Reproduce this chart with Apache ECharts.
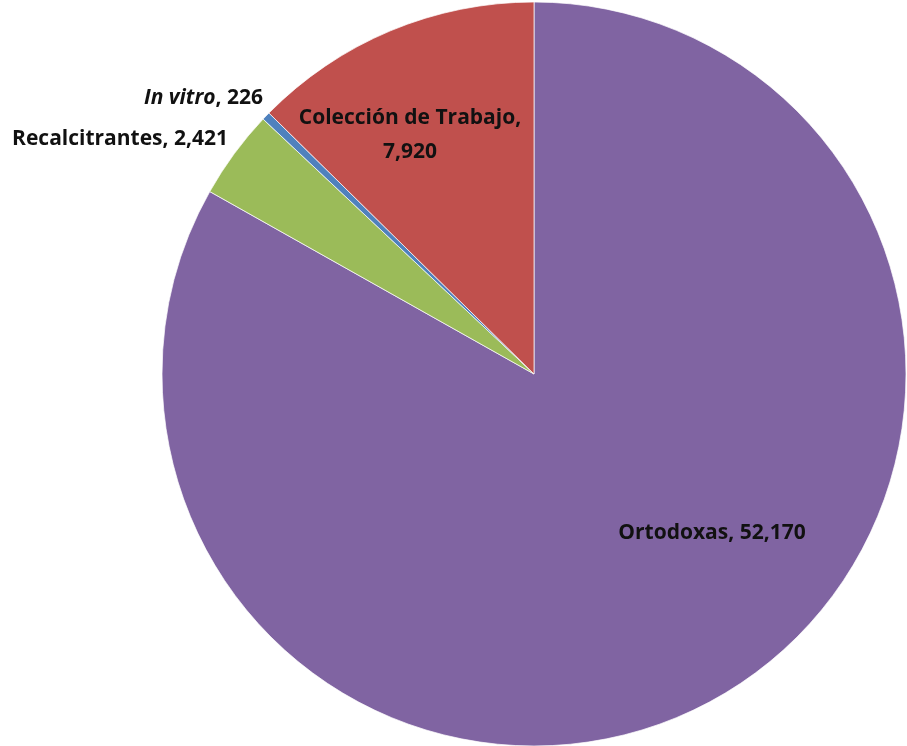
<!DOCTYPE html>
<html lang="es">
<head>
    <meta charset="UTF-8">
    <title>Colecciones</title>
    <script type="text/javascript" src="https://cdn.jsdelivr.net/npm/echarts@6/dist/echarts.min.js"></script>
    <style>
        html, body { margin: 0; padding: 0; background: #fff; }
        #chart-container { width: 907px; height: 746px; }
    </style>
</head>
<body>
    <div id="chart-container"></div>
    <script>
        // clockwise from 12 o'clock
        const names = ['Ortodoxas', 'Recalcitrantes', 'In vitro', 'Colección de Trabajo'];
        const values = [52170, 2421, 226, 7920];
        const colors = ['#8064A2', '#9BBB59', '#4F81BD', '#C0504D'];

        // label anchor points (x, y, align) per slice
        const labelSpots = [
            { x: 712, y: 533, align: 'center' },
            { x: 228, y: 139, align: 'right' },
            { x: 263, y: 98, align: 'right' },
            { x: 410, y: 135, align: 'center' }
        ];

        function fmt(v) {
            return v.toLocaleString('en-US');
        }

        var myChart = echarts.init(document.getElementById('chart-container'));

        var option = {
            animation: false,
            series: [{
                type: 'pie',
                center: [534, 374],
                radius: 372,
                startAngle: 90,
                clockwise: true,
                avoidLabelOverlap: false,
                itemStyle: { borderColor: '#fff', borderWidth: 0.7 },
                label: {
                    show: true,
                    position: 'inside',
                    color: '#111',
                    fontFamily: 'Open Sans',
                    fontWeight: 'bold',
                    fontSize: 21,
                    lineHeight: 34,
                    formatter: function (p) {
                        if (p.name === 'In vitro') return '{i|In vitro}, ' + fmt(p.value);
                        if (p.name === 'Colección de Trabajo') return p.name + ',\n' + fmt(p.value);
                        return p.name + ', ' + fmt(p.value);
                    },
                    rich: {
                        i: { fontStyle: 'italic', fontWeight: 'bold', fontFamily: 'Open Sans', fontSize: 21, color: '#111' }
                    }
                },
                labelLine: { show: false },
                labelLayout: function (params) {
                    const s = labelSpots[params.dataIndex];
                    return {
                        x: s.x,
                        y: s.y,
                        align: s.align,
                        verticalAlign: 'middle'
                    };
                },
                data: names.map((n, i) => ({
                    name: n,
                    value: values[i],
                    itemStyle: { color: colors[i] }
                }))
            }]
        };

        myChart.setOption(option);
    </script>
</body>
</html>
